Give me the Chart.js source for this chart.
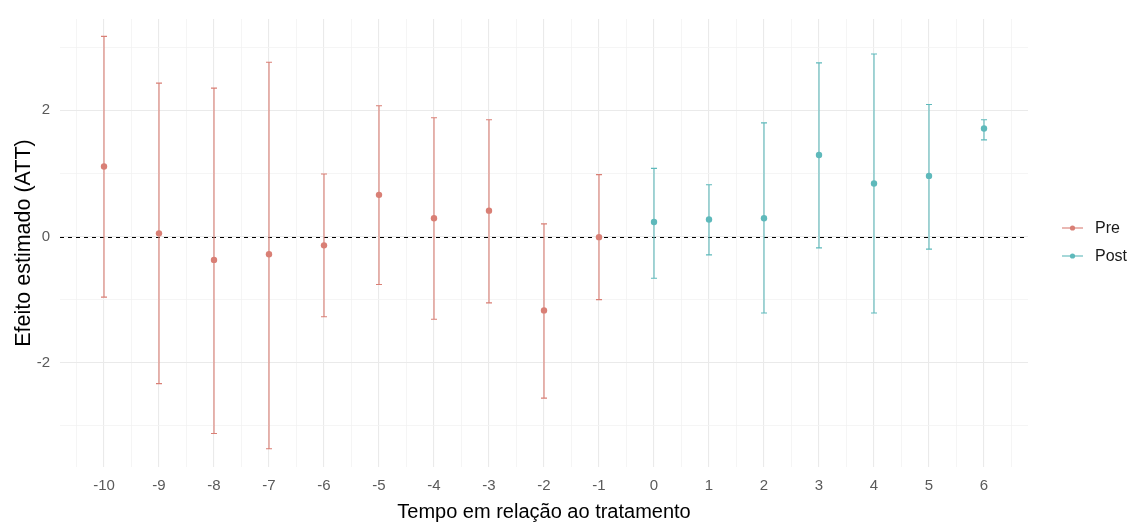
<!DOCTYPE html>
<html><head><meta charset="utf-8">
<script src="https://cdn.jsdelivr.net/npm/chart.js@4.4.1/dist/chart.umd.min.js"></script>
<style>html,body{margin:0;padding:0;background:#fff;overflow:hidden}</style>
</head><body>
<canvas id="c" width="1131" height="531" style="width:1131px;height:531px;display:block"></canvas>
<script>
// ---- data ----
const periods = [-10, -9, -8, -7, -6, -5, -4, -3, -2, -1, 0, 1, 2, 3, 4, 5, 6];
const att     = [1.11, 0.05, -0.37, -0.28, -0.14, 0.66, 0.29, 0.41, -1.17, -0.01, 0.23, 0.27, 0.29, 1.29, 0.84, 0.96, 1.71];
const lower   = [-0.96, -2.33, -3.12, -3.36, -1.27, -0.76, -1.31, -1.05, -2.56, -1.00, -0.66, -0.29, -1.21, -0.18, -1.21, -0.20, 1.53];
const upper   = [3.17, 2.43, 2.35, 2.76, 0.99, 2.07, 1.88, 1.85, 0.20, 0.98, 1.08, 0.82, 1.80, 2.75, 2.89, 2.09, 1.85];
const groupNames = ['Pre', 'Post'];
const yTickLabels = [-2, 0, 2];
const yMinorTicks = [-3, -1, 1, 3];
const xTitle = 'Tempo em relação ao tratamento';
const yTitle = 'Efeito estimado (ATT)';

const groupColors = { Pre: '#D97F75', Post: '#5EB9BB' };

// build datasets
function groupOf(p) { return p < 0 ? 'Pre' : 'Post'; }
const datasets = groupNames.map(g => {
  const idx = periods.map((p, i) => i).filter(i => groupOf(periods[i]) === g);
  return {
    label: g,
    data: idx.map(i => ({ x: periods[i], y: att[i] })),
    lo: idx.map(i => lower[i]),
    hi: idx.map(i => upper[i]),
    pointRadius: 3.2,
    pointHoverRadius: 3.2,
    pointBackgroundColor: groupColors[g],
    pointBorderWidth: 0,
    showLine: false
  };
});

// gridline positions: integer periods (major) and midpoints (minor)
const xGridVals = [];
xGridVals.push(periods[0] - 0.5);
periods.forEach((p, i) => {
  xGridVals.push(p);
  if (i < periods.length - 1) xGridVals.push((p + periods[i + 1]) / 2);
});
xGridVals.push(periods[periods.length - 1] + 0.5);
const yGridVals = yTickLabels.concat(yMinorTicks).sort((a, b) => a - b);

Chart.defaults.font.family = "'Liberation Sans', Arial, sans-serif";

const errorBars = {
  id: 'errorBars',
  beforeDatasetsDraw(chart) {
    const { ctx, scales: { x, y }, chartArea } = chart;
    // dashed zero line
    ctx.save();
    ctx.strokeStyle = '#000';
    ctx.lineWidth = 1;
    ctx.setLineDash([4, 4]);
    const y0 = Math.round(y.getPixelForValue(0)) + 0.5;
    ctx.beginPath();
    ctx.moveTo(chartArea.left, y0);
    ctx.lineTo(chartArea.right, y0);
    ctx.stroke();
    ctx.restore();
    // error bars
    chart.data.datasets.forEach(ds => {
      ctx.save();
      ctx.strokeStyle = ds.pointBackgroundColor;
      ctx.lineWidth = 1.1;
      ds.data.forEach((d, i) => {
        const px = x.getPixelForValue(d.x);
        const pl = x.getPixelForValue(d.x - 0.055);
        const pr = x.getPixelForValue(d.x + 0.055);
        const yl = y.getPixelForValue(ds.lo[i]);
        const yh = y.getPixelForValue(ds.hi[i]);
        ctx.beginPath();
        ctx.moveTo(px, yl); ctx.lineTo(px, yh);
        ctx.moveTo(pl, yl); ctx.lineTo(pr, yl);
        ctx.moveTo(pl, yh); ctx.lineTo(pr, yh);
        ctx.stroke();
      });
      ctx.restore();
    });
  },
  afterDraw(chart) {
    const { ctx } = chart;
    const rows = [228, 256];
    ctx.save();
    chart.data.datasets.forEach((ds, i) => {
      const yy = rows[i];
      ctx.strokeStyle = ds.pointBackgroundColor;
      ctx.fillStyle = ds.pointBackgroundColor;
      ctx.lineWidth = 1.1;
      ctx.beginPath();
      ctx.moveTo(1062, yy); ctx.lineTo(1083, yy);
      ctx.stroke();
      ctx.beginPath();
      ctx.arc(1072.5, yy, 2.6, 0, Math.PI * 2);
      ctx.fill();
      ctx.fillStyle = '#1a1a1a';
      ctx.font = "16px 'Liberation Sans', Arial, sans-serif";
      ctx.textBaseline = 'middle';
      ctx.textAlign = 'left';
      ctx.fillText(ds.label, 1095, yy + 1);
    });
    ctx.restore();
  }
};

new Chart(document.getElementById('c'), {
  type: 'scatter',
  data: { datasets },
  options: {
    responsive: false,
    animation: false,
    events: [],
    layout: { padding: { top: 13, right: 103, bottom: 0, left: 0 } },
    plugins: { legend: { display: false }, tooltip: { enabled: false } },
    scales: {
      x: {
        type: 'linear',
        min: -10.8, max: 6.8,
        afterBuildTicks: s => { s.ticks = xGridVals.map(v => ({ value: v })); },
        afterFit: s => { s.height = 64; },
        ticks: {
          autoSkip: false, maxRotation: 0, padding: 10,
          color: '#5a5a5a', font: { size: 15 },
          callback: v => Number.isInteger(v) && periods.includes(v) ? String(v) : ''
        },
        grid: {
          drawTicks: false,
          color: c => Number.isInteger(c.tick.value) ? '#EAEAEA' : '#F2F2F2',
          lineWidth: c => Number.isInteger(c.tick.value) ? 1.1 : 0.8
        },
        border: { display: false },
        title: { display: true, text: xTitle, color: '#000', font: { size: 20 }, padding: { top: 0, bottom: 7 } }
      },
      y: {
        type: 'linear',
        min: -3.65, max: 3.445,
        afterBuildTicks: s => { s.ticks = yGridVals.map(v => ({ value: v })); },
        afterFit: s => { s.width = 60; },
        ticks: {
          autoSkip: false, padding: 10,
          color: '#5a5a5a', font: { size: 15 },
          callback: v => yTickLabels.includes(v) ? String(v) : ''
        },
        grid: {
          drawTicks: false,
          color: c => yTickLabels.includes(c.tick.value) ? '#EAEAEA' : '#F2F2F2',
          lineWidth: c => yTickLabels.includes(c.tick.value) ? 1.1 : 0.8
        },
        border: { display: false },
        title: { display: true, text: yTitle, color: '#000', font: { size: 21.5 }, padding: { top: 11, bottom: 0 } }
      }
    }
  },
  plugins: [errorBars]
});
</script>
</body></html>
